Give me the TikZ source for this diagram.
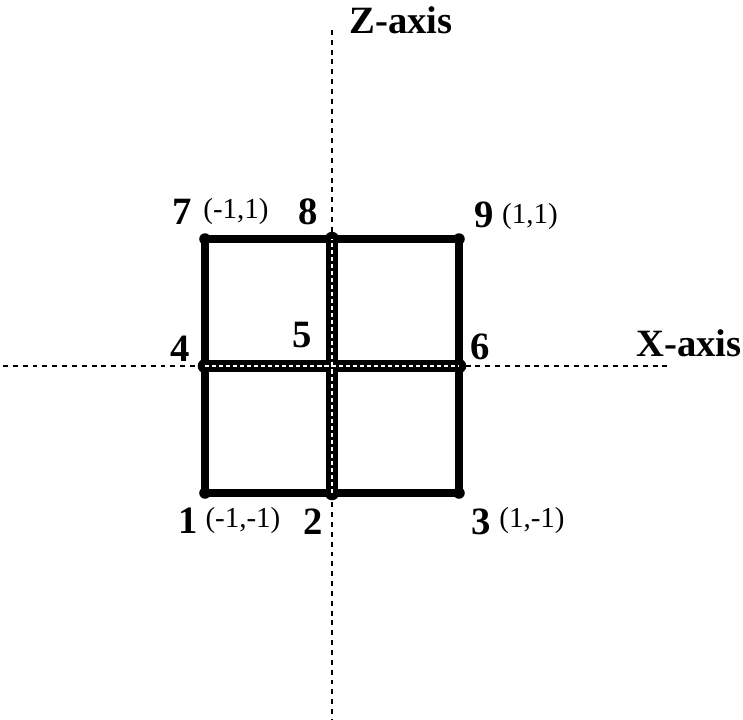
\documentclass[tikz,border=0pt]{standalone}
\usepackage{fontspec}
\setmainfont{Liberation Serif}
\begin{document}
\begin{tikzpicture}[x=2.54cm,y=2.54cm,
  num/.style={font=\bfseries\fontsize{22}{22}\selectfont,inner sep=0pt},
  crd/.style={font=\fontsize{16.5}{16.5}\selectfont,inner sep=0pt},
  lbl/.style={font=\bfseries\fontsize{22}{22}\selectfont,inner sep=0pt},
  axisline/.style={line width=1.1pt,dash pattern=on 2.8pt off 2.8pt},
  dot/.style={circle,fill,inner sep=0pt,minimum size=0.23cm},
  bigdot/.style={circle,fill,inner sep=0pt,minimum size=0.29cm},
  edge/.style={line width=4.2pt},
  midline/.style={line width=7pt},
  middash/.style={white,line width=1.4pt,dash pattern=on 2.3pt off 1.7pt}]
\useasboundingbox (-2.614,-2.780) rectangle (3.236,2.882);

% axes
\coordinate (ztop) at (0,2.646);
\coordinate (zbot) at (0,-2.78);
\coordinate (xl) at (-2.59,0);
\coordinate (xr) at (2.66,0);
\draw[axisline] (ztop) -- (zbot);
\draw[axisline] (xl) -- (xr);
\node[lbl] (zlab) at (0.543,2.724) {Z-axis};
\node[lbl] (xlab) at (2.811,0.181) {X-axis};

% grid points
\coordinate (p1) at (-1,-1);
\coordinate (p2) at (0,-1);
\coordinate (p3) at (1,-1);
\coordinate (p4) at (-1,0);
\coordinate (p5) at (0,0);
\coordinate (p6) at (1,0);
\coordinate (p7) at (-1,1);
\coordinate (p8) at (0,1);
\coordinate (p9) at (1,1);

\draw[edge] (p1) -- (p3) -- (p9) -- (p7) -- cycle;
\draw[midline] (p4) -- (p6);
\draw[midline] (p2) -- (p8);

\node[dot] (d1) at (p1) {};
\node[dot] (d3) at (p3) {};
\node[dot] (d7) at (p7) {};
\node[dot] (d9) at (p9) {};
\node[bigdot] (d2) at (p2) {};
\node[bigdot] (d4) at (p4) {};
\node[bigdot] (d6) at (p6) {};
\node[bigdot] (d8) at (p8) {};

\draw[middash] (p4) -- (p6);
\draw[middash] (p2) -- (p8);

% labels
\node[num] (n7) at (-1.181,1.213) {7};
\node[crd] (c7) at (-0.756,1.213) {(-1,1)};
\node[num] (n8) at (-0.189,1.213) {8};
\node[num] (n9) at (1.197,1.189) {9};
\node[crd] (c9) at (1.559,1.181) {(1,1)};
\node[num] (n4) at (-1.197,0.134) {4};
\node[num] (n5) at (-0.236,0.244) {5};
\node[num] (n6) at (1.165,0.150) {6};
\node[num] (n1) at (-1.134,-1.22) {1};
\node[crd] (c1) at (-0.701,-1.213) {(-1,-1)};
\node[num] (n2) at (-0.150,-1.228) {2};
\node[num] (n3) at (1.173,-1.228) {3};
\node[crd] (c3) at (1.575,-1.213) {(1,-1)};
\end{tikzpicture}
\end{document}
